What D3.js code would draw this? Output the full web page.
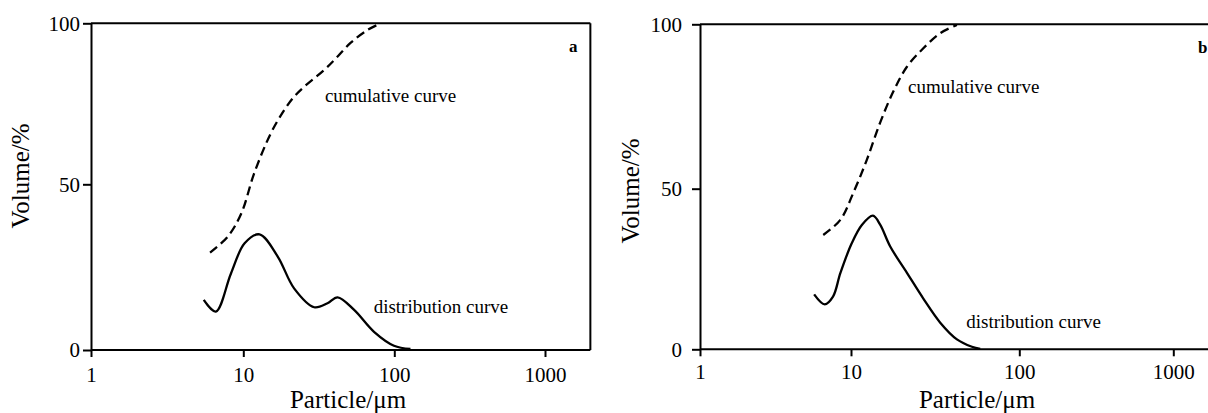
<!DOCTYPE html>
<html>
<head>
<meta charset="utf-8">
<script src="https://cdn.jsdelivr.net/npm/d3@7"></script>
<style>
  body { margin: 0; background: #fff; }
  svg { display: block; }
  text { font-family: "Liberation Serif", "Times New Roman", serif; fill: #000; }
  .axis path, .axis line { stroke: #000; stroke-width: 2; }
  .axis text { font-size: 21px; }
  .curve { fill: none; stroke: #000; stroke-width: 2.3; }
</style>
</head>
<body>
<svg id="chart" width="1208" height="413"></svg>
<script>
// tick labels
var xTicks = [1, 10, 100, 1000];
var yTicks = [0, 50, 100];

// panel a, distribution curve (particle size in um, volume in %)
var distA_size = [5.5, 6.6, 8.3, 10.2, 12.8, 16.9, 21.7, 29.5, 36.1, 42.1, 54.2, 73.4, 99.5, 128];
var distA_vol  = [15.1, 11.6, 23.1, 32.2, 34.9, 28.2, 18.6, 12.9, 14.1, 15.9, 12.1, 5.5, 1.3, 0.3];
// panel a, cumulative curve
var cumA_size = [6.05, 7.9, 9.7, 11.8, 15.2, 18.7, 21.7, 25.3, 34.3, 41.0, 51.5, 66.4, 81.3];
var cumA_vol  = [29.4, 34.2, 41.2, 53.4, 65.8, 73.1, 77.2, 80.3, 85.5, 89.1, 94.0, 97.9, 100];

// panel b, distribution curve
var distB_size = [5.7, 6.7, 7.6, 8.5, 10.1, 11.6, 13.5, 14.9, 17.1, 21.5, 26.9, 33.9, 42.6, 52.3, 58.6];
var distB_vol  = [17.1, 14.0, 16.4, 23.7, 33.0, 38.7, 41.6, 38.8, 32.0, 23.8, 15.8, 8.3, 3.1, 0.8, 0.1];
// panel b, cumulative curve
var cumB_size = [6.55, 8.5, 10.3, 12.4, 14.9, 17.9, 21.5, 26.9, 33.9, 42.6];
var cumB_vol  = [35.6, 40.3, 48.6, 58.7, 70.1, 79.7, 87.1, 92.7, 97.3, 99.8];

var svg = d3.select("#chart");

var panels = [
    {
        tag: "a",
        xRange: [91, 243.3, 394.3, 545],
        yRange: [350, 184.3, 23.3],
        yPad: 3, xPad: 10,
        dist: { size: distA_size, vol: distA_vol },
        cum: { size: cumA_size, vol: cumA_vol },
        cumLabel: [34.7, 75.6],
        distLabel: [73, 11.2],
        yTitle: [29, 176],
        xTitleX: 348
    },
    {
        tag: "b",
        xRange: [700, 851, 1019.3, 1173.3],
        yRange: [349.3, 188.7, 24.3],
        yPad: 10, xPad: 8,
        dist: { size: distB_size, vol: distB_vol },
        cum: { size: cumB_size, vol: cumB_vol },
        cumLabel: [21.8, 79.1],
        distLabel: [48.4, 6.6],
        yTitle: [639, 191],
        xTitleX: 977
    }
];

panels.forEach(drawPanel);

function drawPanel(p) {
    // log axis, piecewise so the decades land where the picture has them
    var x = d3.scaleLog()
        .domain(xTicks)
        .range(p.xRange);
    var y = d3.scaleLinear()
        .domain(yTicks)
        .range(p.yRange);

    var g = svg.append("g");
    var xMax = 2000;

    // top and right frame lines
    g.append("line")
        .attr("x1", x(1)).attr("x2", x(xMax))
        .attr("y1", y(100)).attr("y2", y(100))
        .attr("stroke", "#000").attr("stroke-width", 2);
    g.append("line")
        .attr("x1", x(xMax)).attr("x2", x(xMax))
        .attr("y1", y(0)).attr("y2", y(100))
        .attr("stroke", "#000").attr("stroke-width", 2);

    // X axis
    var xAxis = g.append("g")
        .attr("class", "axis")
        .attr("transform", "translate(0," + y(0) + ")")
        .call(d3.axisBottom(x)
            .tickValues(xTicks)
            .tickFormat(d3.format("d"))
            .tickSize(7)
            .tickSizeOuter(0)
            .tickPadding(p.xPad));
    xAxis.select(".domain").attr("d", "M" + x(1) + ",0H" + x(xMax));

    // Y axis
    g.append("g")
        .attr("class", "axis")
        .attr("transform", "translate(" + x(1) + ",0)")
        .call(d3.axisLeft(y)
            .tickValues(yTicks)
            .tickSize(8)
            .tickSizeOuter(0)
            .tickPadding(p.yPad));

    var line = d3.line()
        .x(function (d) { return x(d[0]); })
        .y(function (d) { return y(d[1]); })
        .curve(d3.curveCatmullRom.alpha(0.5));

    g.append("path")
        .attr("class", "curve")
        .attr("d", line(d3.zip(p.dist.size, p.dist.vol)));

    g.append("path")
        .attr("class", "curve")
        .attr("stroke-width", 2.5)
        .attr("stroke-dasharray", "9,5")
        .attr("d", line(d3.zip(p.cum.size, p.cum.vol)));

    // curve labels
    g.append("text")
        .attr("x", x(p.cumLabel[0]))
        .attr("y", y(p.cumLabel[1]))
        .style("font-size", "19px")
        .text("cumulative curve");
    g.append("text")
        .attr("x", x(p.distLabel[0]))
        .attr("y", y(p.distLabel[1]))
        .style("font-size", "19px")
        .text("distribution curve");

    // panel letter
    g.append("text")
        .attr("x", x(xMax) - 17)
        .attr("y", y(100) + 29)
        .attr("text-anchor", "middle")
        .style("font-size", "17px")
        .style("font-weight", "bold")
        .text(p.tag);

    // axis titles
    g.append("text")
        .attr("transform", "translate(" + p.yTitle[0] + "," + p.yTitle[1] + ") rotate(-90)")
        .attr("text-anchor", "middle")
        .style("font-size", "25px")
        .text("Volume/%");
    g.append("text")
        .attr("x", p.xTitleX)
        .attr("y", 408)
        .attr("text-anchor", "middle")
        .style("font-size", "25px")
        .text("Particle/\u03bcm");
}
</script>
</body>
</html>
